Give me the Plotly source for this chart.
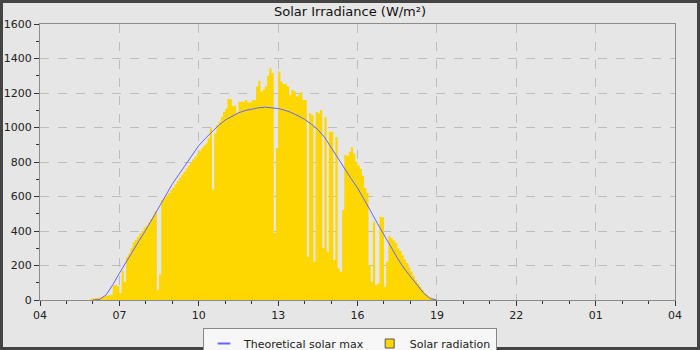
import plotly.graph_objects as go
import pandas as pd

DAY = "2024-06-01"

# Solar radiation, 5-minute samples starting 05:55 (W/m²)
rad_start = "05:55"
rad_values = [
    8,
    10, 12, 15, 15, 18, 22, 25, 28, 30, 85, 87, 80,            # 06
    40, 170, 106, 250, 270, 300, 335, 350, 365, 385, 400, 420,  # 07
    430, 450, 470, 490, 515, 58, 150, 580, 592, 606, 620, 636,  # 08
    652, 670, 690, 708, 726, 744, 762, 780, 797, 814, 830, 848,  # 09
    865, 880, 895, 908, 937, 995, 640, 966, 1014, 1034, 1063, 1090,  # 10
    1110, 1165, 1165, 1126, 1126, 1082, 1150, 1150, 1150, 1160, 1145, 1145,  # 11
    1160, 1160, 1237, 1271, 1208, 1220, 1237, 1300, 1343, 1316, 388, 881,  # 12
    1324, 1266, 1252, 1252, 1237, 1188, 1218, 1208, 1179, 1188, 1205, 1160,  # 13
    1160, 251, 1082, 1072, 222, 1092, 1082, 1101, 300, 1059, 280, 975,  # 14
    975, 232, 943, 183, 164, 522, 840, 835, 860, 885, 850, 802,  # 15
    780, 760, 720, 650, 620, 200, 106, 454, 87, 95, 483, 480,  # 16
    77, 222, 371, 360, 345, 330, 300, 285, 260, 235, 214, 190,  # 17
    165, 140, 115, 95, 77, 60, 40, 28, 19, 15, 10, 6,  # 18
    0,
]

# Theoretical solar max, 15-minute samples starting 06:00 (W/m²)
theo_start = "06:00"
theo_values = [
    0, 3, 30, 88, 155, 220, 285, 345, 406, 473, 540, 607,
    672, 728, 785, 842, 895, 937, 977, 1012, 1043, 1066, 1085, 1098,
    1107, 1114, 1118, 1116, 1110, 1100, 1087, 1068, 1047, 1020, 988, 945,
    885, 822, 762, 705, 650, 585, 515, 445, 377, 310, 245, 185,
    135, 85, 40, 8, 0,
]

x_range = [f"{DAY} 04:00", "2024-06-02 04:00"]
y_ticks = [0, 200, 400, 600, 800, 1000, 1200, 1400, 1600]

rad_times = pd.date_range(f"{DAY} {rad_start}", periods=len(rad_values), freq="5min")
theo_times = pd.date_range(f"{DAY} {theo_start}", periods=len(theo_values), freq="15min")

FONT = "DejaVu Sans"
GOLD = "#FFD700"
BLUE = "#6464ff"

fig = go.Figure()

fig.add_trace(go.Scatter(
    x=rad_times, y=rad_values, mode="lines", line=dict(width=0, shape="hv"),
    fill="tozeroy", fillcolor=GOLD, name="Solar radiation", showlegend=False,
    hoverinfo="x+y",
))
fig.add_trace(go.Scatter(
    x=theo_times, y=theo_values, mode="lines", line=dict(color=BLUE, width=1),
    name="Theoretical solar max", showlegend=False,
))
# legend swatches
fig.add_trace(go.Scatter(
    x=[None], y=[None], mode="markers", name="Theoretical solar max",
    marker=dict(symbol="line-ew", size=9, color=BLUE, line=dict(color=BLUE, width=2)),
))
fig.add_trace(go.Scatter(
    x=[None], y=[None], mode="markers", name="Solar radiation",
    marker=dict(symbol="square", size=9, color=GOLD, line=dict(color="#555", width=1)),
))

axis_common = dict(
    showline=True, linecolor="#8c8c8c", linewidth=1, mirror=True,
    ticks="outside", ticklen=5, tickcolor="#333", tickwidth=1,
    showgrid=True, gridcolor="#bdbdbd", griddash="dash", gridwidth=1,
    zeroline=False, tickfont=dict(family=FONT, size=11, color="#222"),
)

fig.update_xaxes(
    type="date", range=x_range, tickformat="%H",
    tick0=f"{DAY} 04:00", dtick=3 * 3600 * 1000,
    minor=dict(dtick=3600 * 1000, ticks="outside", ticklen=3, tickcolor="#333", showgrid=False),
    **axis_common,
)
fig.update_yaxes(
    range=[0, 1600], tickvals=y_ticks,
    minor=dict(dtick=100, ticks="outside", ticklen=3, tickcolor="#333", showgrid=False),
    **axis_common,
)

# outer dark frame of the picture
pw, ph = 635, 276
fig.add_shape(
    type="rect", xref="paper", yref="paper",
    x0=(1.5 - 40) / pw, x1=(698.5 - 40) / pw,
    y0=(300 - 348.5) / ph, y1=(300 - 1.5) / ph,
    line=dict(color="#444", width=3), fillcolor="rgba(0,0,0,0)", layer="above",
)

fig.update_layout(
    width=700, height=350,
    margin=dict(l=40, r=25, t=24, b=50, autoexpand=False),
    paper_bgcolor="#e6e6e6", plot_bgcolor="#e6e6e6",
    font=dict(family=FONT, size=11, color="#222"),
    title=dict(text="Solar Irradiance (W/m²)", x=0.5, xref="container", xanchor="center",
               y=1 - 11.5 / 350, yref="container", yanchor="middle",
               font=dict(family=FONT, size=13, color="#111")),
    legend=dict(orientation="h", xref="container", yref="container",
                x=0.5, xanchor="center", y=(350 - 328) / 350, yanchor="top",
                bgcolor="#f7f7f7", bordercolor="#888", borderwidth=1,
                font=dict(family=FONT, size=11, color="#222"),
                itemwidth=30, tracegroupgap=0),
    showlegend=True,
)

fig.write_html("out.html")
